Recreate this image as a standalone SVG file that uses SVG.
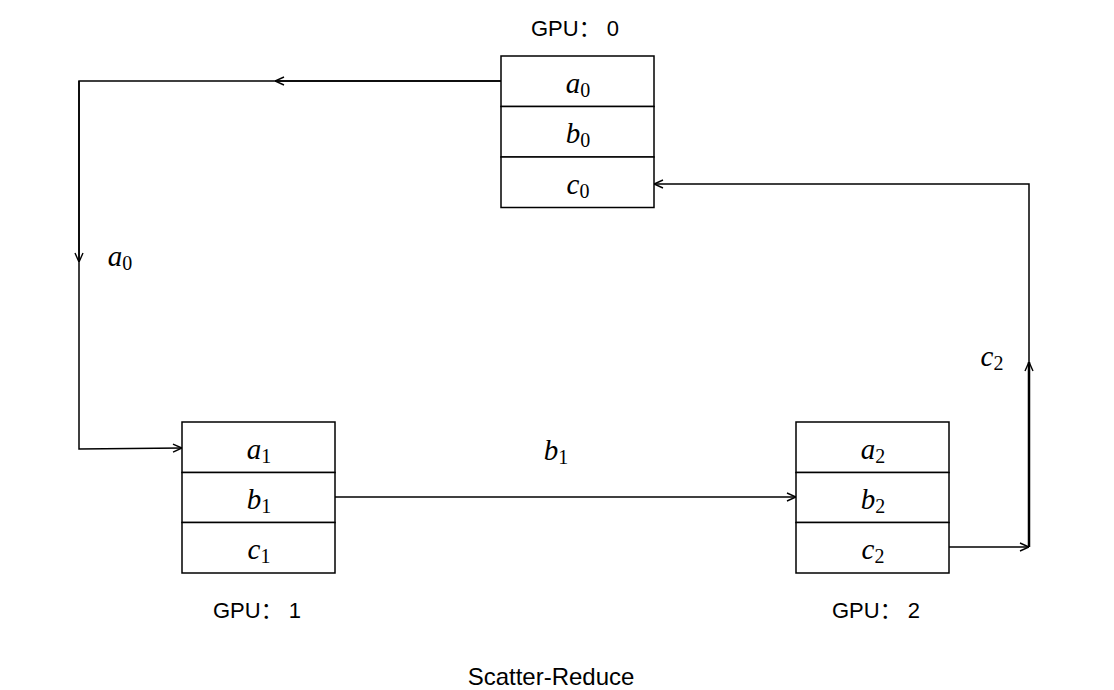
<svg xmlns="http://www.w3.org/2000/svg" width="1114" height="690" viewBox="0 0 1114 690">
<style>
.cell{fill:#fff;stroke:#000;stroke-width:1.5}
.lbl{font-family:"Liberation Sans","Noto Sans CJK SC",sans-serif;font-size:22px;fill:#000;text-anchor:middle}
.m{font-family:"Liberation Serif","DejaVu Serif",serif;font-style:italic;font-size:29px;fill:#000;text-anchor:middle}
.sub{font-style:normal;font-size:20px}
.c{fill:none;stroke:#000;stroke-width:1.5}
</style>
<defs>
<marker id="ah" viewBox="0 0 10 10" refX="10" refY="5" markerWidth="10" markerHeight="10" markerUnits="userSpaceOnUse" orient="auto">
<path d="M1,1 L10,5 L1,9" fill="none" stroke="#000" stroke-width="1.4"/>
</marker>
</defs>
<rect width="1114" height="690" fill="#fff"/>
<g id="connectors">
<path class="c" d="M501,81 L79,81 L79,449 L182,448" marker-end="url(#ah)"/>
<path class="c" d="M501,81 L275,81" marker-end="url(#ah)"/>
<path class="c" d="M79,81 L79,262" marker-end="url(#ah)"/>
<path class="c" d="M335,497 L796,497" marker-end="url(#ah)"/>
<path class="c" d="M949,547 L1029,547" marker-end="url(#ah)"/>
<path class="c" d="M1029,547 L1029,184 L654,184" marker-end="url(#ah)"/>
<path class="c" style="stroke-width:2.5" d="M1029,547 L1029,362" marker-end="url(#ah)"/>
</g>
<g id="conn-labels">
<text class="m" x="120" y="266">a<tspan class="sub" dy="4">0</tspan></text>
<text class="m" x="992" y="366">c<tspan class="sub" dy="4">2</tspan></text>
<text class="m" x="556" y="460">b<tspan class="sub" dy="4">1</tspan></text>
</g>
<g id="gpu0">
<rect class="cell" x="501" y="56" width="153" height="50.5"/>
<rect class="cell" x="501" y="106.5" width="153" height="50.5"/>
<rect class="cell" x="501" y="157" width="153" height="50.5"/>
<text class="m" x="578" y="93">a<tspan class="sub" dy="4">0</tspan></text>
<text class="m" x="578" y="143">b<tspan class="sub" dy="4">0</tspan></text>
<text class="m" x="578" y="194">c<tspan class="sub" dy="4">0</tspan></text>
<text class="lbl" x="575" y="36">GPU： 0</text>
</g>
<g id="gpu1">
<rect class="cell" x="182" y="422" width="153" height="50.5"/>
<rect class="cell" x="182" y="472.5" width="153" height="50"/>
<rect class="cell" x="182" y="522.5" width="153" height="50.5"/>
<text class="m" x="259" y="459">a<tspan class="sub" dy="4">1</tspan></text>
<text class="m" x="259" y="509">b<tspan class="sub" dy="4">1</tspan></text>
<text class="m" x="259" y="559">c<tspan class="sub" dy="4">1</tspan></text>
<text class="lbl" x="257" y="618">GPU： 1</text>
</g>
<g id="gpu2">
<rect class="cell" x="796" y="422" width="153" height="50.5"/>
<rect class="cell" x="796" y="472.5" width="153" height="50"/>
<rect class="cell" x="796" y="522.5" width="153" height="50.5"/>
<text class="m" x="873" y="459">a<tspan class="sub" dy="4">2</tspan></text>
<text class="m" x="873" y="509">b<tspan class="sub" dy="4">2</tspan></text>
<text class="m" x="873" y="559">c<tspan class="sub" dy="4">2</tspan></text>
<text class="lbl" x="876" y="618">GPU： 2</text>
</g>
<text class="lbl" style="font-size:24px" x="551" y="685">Scatter-Reduce</text>
</svg>
